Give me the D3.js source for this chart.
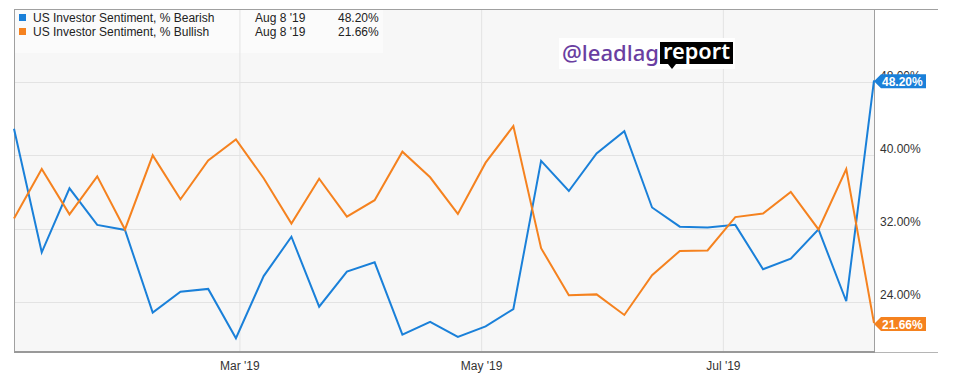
<!DOCTYPE html>
<html>
<head>
<meta charset="utf-8">
<script src="https://cdn.jsdelivr.net/npm/d3@7"></script>
<style>
  body { margin: 0; background: #fff; }
  svg { display: block; font-family: "Liberation Sans", Arial, sans-serif; }
</style>
</head>
<body>
<svg id="chart" width="967" height="384"></svg>
<script>
// weekly AAII readings, Jan 3 '19 .. Aug 8 '19
const startDate = '2019-01-03';
const weeks = 32;
const bearish = [42.9, 29.4, 36.4, 32.4, 31.85, 22.8, 25.1, 25.4, 20.0, 26.8, 31.1, 23.45, 27.3, 28.3, 20.4, 21.8,
                 20.15, 21.3, 23.2, 39.4, 36.1, 40.2, 42.65, 34.3, 32.2, 32.1, 32.4, 27.55, 28.7, 31.9, 24.05, 48.20];
const bullish = [33.1, 38.5, 33.55, 37.7, 31.9, 40.0, 35.2, 39.45, 41.75, 37.5, 32.55, 37.45, 33.3, 35.1, 40.4, 37.6,
                 33.6, 39.2, 43.2, 29.85, 24.7, 24.8, 22.55, 26.9, 29.55, 29.6, 33.25, 33.65, 35.99, 31.9, 38.5, 21.66];
const yTicks = [24, 32, 40, 48];
const seriesNames = ['US Investor Sentiment, % Bearish', 'US Investor Sentiment, % Bullish'];
const lastLabel = "Aug 8 '19";

const colors = ['#1a80d9', '#f5821f'];

const dates = d3.range(weeks).map(i => d3.timeDay.offset(new Date(startDate + 'T00:00:00'), i * 7));

const svg = d3.select('#chart');
const plotL = 14, plotR = 874, plotT = 9, plotB = 352;

const x = d3.scaleTime()
    .domain([dates[0], dates[dates.length - 1]])
    .range([plotL, plotR]);
const y = d3.scaleLinear()
    .domain([18.5, 56])
    .range([plotB, plotT]);

// plot background
svg.append('rect')
    .attr('x', plotL).attr('y', plotT)
    .attr('width', plotR - plotL).attr('height', plotB - plotT)
    .attr('fill', '#f7f7f7');

// legend backing (faint)
svg.append('rect')
    .attr('x', plotL).attr('y', plotT)
    .attr('width', 369).attr('height', 44)
    .attr('fill', '#fff').attr('opacity', 0.45);

// gridlines
const monthTicks = x.ticks(d3.timeMonth.every(2));
svg.append('g').selectAll('line')
    .data(monthTicks)
    .enter()
    .append('line')
    .attr('x1', d => x(d)).attr('x2', d => x(d))
    .attr('y1', plotT).attr('y2', plotB)
    .attr('stroke', '#e3e3e3').attr('stroke-width', 1);

svg.append('g').selectAll('line')
    .data(yTicks)
    .enter()
    .append('line')
    .attr('x1', plotL).attr('x2', plotR)
    .attr('y1', d => Math.round(y(d)) + 0.5).attr('y2', d => Math.round(y(d)) + 0.5)
    .attr('stroke', '#e3e3e3').attr('stroke-width', 1);

// frame
svg.append('line')
    .attr('x1', plotL).attr('x2', 938).attr('y1', plotT + 0.5).attr('y2', plotT + 0.5)
    .attr('stroke', '#a0a0a0');
svg.append('line')
    .attr('x1', plotL + 0.5).attr('x2', plotL + 0.5).attr('y1', plotT).attr('y2', plotB)
    .attr('stroke', '#a0a0a0');
svg.append('line')
    .attr('x1', plotR + 0.5).attr('x2', plotR + 0.5).attr('y1', plotT).attr('y2', plotB)
    .attr('stroke', '#a0a0a0');
svg.append('line')
    .attr('x1', plotR).attr('x2', 938).attr('y1', plotB + 0.5).attr('y2', plotB + 0.5)
    .attr('stroke', '#b5b5b5');
svg.append('line')
    .attr('x1', plotL).attr('x2', plotR + 1).attr('y1', plotB).attr('y2', plotB)
    .attr('stroke', '#999').attr('stroke-width', 2);

// x labels
svg.append('g').selectAll('text')
    .data(monthTicks)
    .enter()
    .append('text')
    .attr('x', d => x(d)).attr('y', 370)
    .attr('text-anchor', 'middle')
    .attr('font-size', '12px').attr('fill', '#333')
    .text(d => d3.timeFormat("%b '%y")(d));

// y labels (top one sits behind the bearish badge, as in the source)
svg.append('g').selectAll('text')
    .data(yTicks)
    .enter()
    .append('text')
    .attr('x', 880).attr('y', d => y(d) - 2.5)
    .attr('font-size', '12px').attr('fill', '#333')
    .text(d => d.toFixed(2) + '%');

// lines
const line = d3.line()
    .x((d, i) => x(dates[i]))
    .y(d => y(d));

[bearish, bullish].forEach((s, k) => {
    svg.append('path')
        .datum(s)
        .attr('d', line)
        .attr('fill', 'none')
        .attr('stroke', colors[k])
        .attr('stroke-width', 2)
        .attr('stroke-linejoin', 'miter');
});

// legend
[bearish, bullish].forEach((s, k) => {
    const ly = 17 + k * 14;
    svg.append('rect')
        .attr('x', 19).attr('y', ly - 3).attr('width', 7).attr('height', 7)
        .attr('fill', colors[k]);
    svg.append('text')
        .attr('x', 33).attr('y', ly + 5)
        .attr('font-size', '12px').attr('fill', '#222')
        .text(seriesNames[k]);
    svg.append('text')
        .attr('x', 255).attr('y', ly + 5)
        .attr('font-size', '12px').attr('fill', '#222')
        .text(lastLabel);
    svg.append('text')
        .attr('x', 338).attr('y', ly + 5)
        .attr('font-size', '12px').attr('fill', '#222')
        .text(s[s.length - 1].toFixed(2) + '%');
});

// end-value badges
[bearish, bullish].forEach((s, k) => {
    const v = s[s.length - 1];
    const cy = y(v) + 1;
    const bx = plotR;
    svg.append('path')
        .attr('d', `M${bx},${cy} L${bx + 7},${cy - 7} L${bx + 52},${cy - 7} L${bx + 52},${cy + 7} L${bx + 7},${cy + 7} Z`)
        .attr('fill', colors[k]);
    svg.append('text')
        .attr('x', bx + 8).attr('y', cy + 4.5)
        .attr('font-size', '12px').attr('font-weight', 'bold').attr('fill', '#fff')
        .text(v.toFixed(2) + '%');
});

// watermark logo
const logo = svg.append('g');
logo.append('rect')
    .attr('x', 559).attr('y', 38).attr('width', 176).attr('height', 31)
    .attr('fill', '#fff');
logo.append('text')
    .attr('x', 562).attr('y', 61)
    .attr('font-family', '"Noto Sans", sans-serif')
    .attr('font-size', '22px').attr('font-weight', 500)
    .attr('fill', '#6a3ea1')
    .attr('textLength', 97).attr('lengthAdjust', 'spacingAndGlyphs')
    .text('@leadlag');
logo.append('rect')
    .attr('x', 660).attr('y', 42).attr('width', 73).attr('height', 22)
    .attr('fill', '#000');
logo.append('path')
    .attr('d', 'M668,64 L672,69 L676,64 Z')
    .attr('fill', '#000');
logo.append('text')
    .attr('x', 663).attr('y', 59)
    .attr('font-family', '"Noto Sans", sans-serif')
    .attr('font-size', '21px').attr('font-weight', 600)
    .attr('fill', '#fff')
    .attr('textLength', 67).attr('lengthAdjust', 'spacingAndGlyphs')
    .text('report');
</script>
</body>
</html>
